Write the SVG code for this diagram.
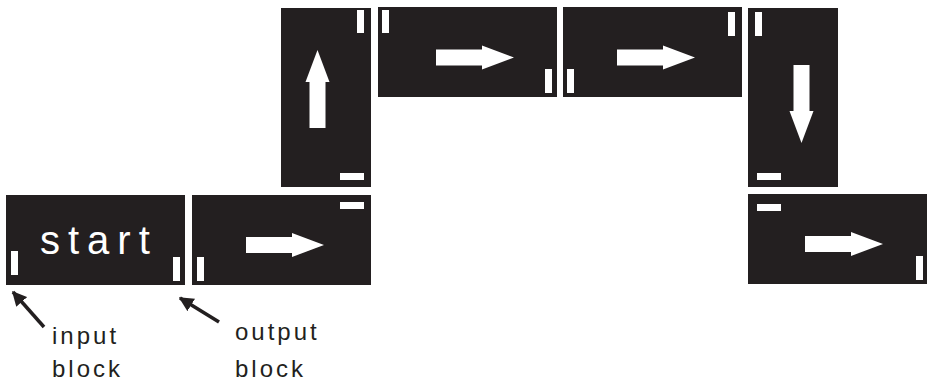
<svg xmlns="http://www.w3.org/2000/svg" width="932" height="382" viewBox="0 0 932 382">
<style>
.blk{fill:#231f20}
.tab{fill:#ffffff}
.dir{fill:#ffffff}
.lbl{font-family:"Liberation Sans",Arial,sans-serif;font-size:24px;letter-spacing:3px;fill:#231f20}
.big{font-family:"Liberation Sans",Arial,sans-serif;font-size:40px;letter-spacing:8px;fill:#ffffff}
.con{stroke:#231f20;stroke-width:3.5;fill:none;marker-end:url(#ah)}
</style>
<defs>
<path id="arr" d="M0,-8 H46 V-12 L78,0 L46,12 V8 H0 Z"/>
<marker id="ah" viewBox="0 0 10 10" refX="9" refY="5" markerWidth="4.2" markerHeight="4.2" orient="auto" markerUnits="strokeWidth">
<path d="M0,0 L10,5 L0,10 Z" fill="#231f20"/>
</marker>
</defs>
<g id="start">
<rect class="blk" x="6" y="195" width="179" height="90"/>
<rect class="tab" x="11" y="251" width="7" height="24"/>
<rect class="tab" x="173" y="257" width="7" height="24"/>
<text class="big" x="40" y="254">start</text>
</g>
<g id="block2">
<rect class="blk" x="192" y="195" width="179" height="90"/>
<rect class="tab" x="340" y="202" width="24" height="7"/>
<rect class="tab" x="197" y="257" width="7" height="24"/>
<use class="dir" href="#arr" transform="translate(246,245)"/>
</g>
<g id="block3">
<rect class="blk" x="281" y="8" width="90" height="179"/>
<rect class="tab" x="357" y="10" width="7" height="23"/>
<rect class="tab" x="340" y="173" width="24" height="7"/>
<use class="dir" href="#arr" transform="translate(317.5,128) rotate(-90)"/>
</g>
<g id="block4">
<rect class="blk" x="378" y="7" width="179" height="90"/>
<rect class="tab" x="382" y="10" width="7" height="23"/>
<rect class="tab" x="545" y="69" width="7" height="24"/>
<use class="dir" href="#arr" transform="translate(436,57.5)"/>
</g>
<g id="block5">
<rect class="blk" x="563" y="7" width="179" height="90"/>
<rect class="tab" x="728" y="12" width="7" height="24"/>
<rect class="tab" x="567" y="69" width="7" height="24"/>
<use class="dir" href="#arr" transform="translate(617,57.5)"/>
</g>
<g id="block6">
<rect class="blk" x="748" y="8" width="90" height="179"/>
<rect class="tab" x="755" y="12" width="7" height="24"/>
<rect class="tab" x="757" y="173" width="24" height="7"/>
<use class="dir" href="#arr" transform="translate(801.5,65) rotate(90)"/>
</g>
<g id="block7">
<rect class="blk" x="748" y="194" width="179" height="90"/>
<rect class="tab" x="757" y="204" width="24" height="7"/>
<rect class="tab" x="916" y="256" width="7" height="24"/>
<use class="dir" href="#arr" transform="translate(805,244)"/>
</g>
<g id="connectors">
<line class="con" x1="44" y1="327" x2="13" y2="292"/>
<line class="con" x1="219" y1="322" x2="180" y2="298"/>
</g>
<g id="labels">
<text class="lbl" x="52" y="344">input</text>
<text class="lbl" x="52" y="377">block</text>
<text class="lbl" x="235" y="340">output</text>
<text class="lbl" x="235" y="377">block</text>
</g>
</svg>
